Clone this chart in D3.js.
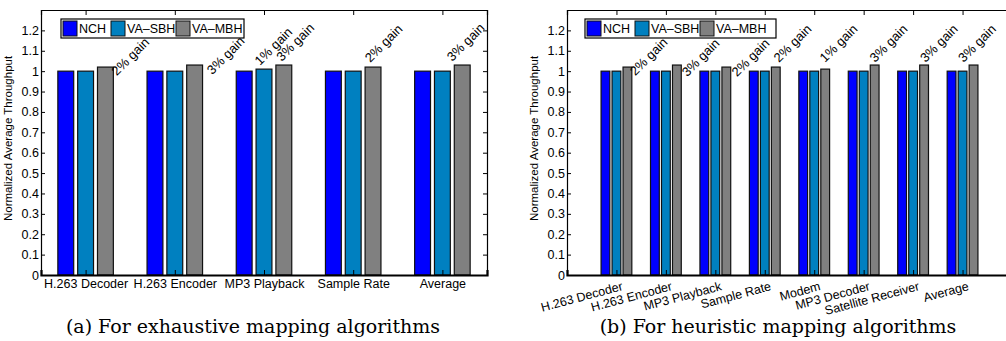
<!DOCTYPE html>
<html lang="en">
    <head>
        <meta charset="UTF-8" />
        <title>Normalized average throughput</title>
        <script src="https://cdn.jsdelivr.net/npm/d3@7"></script>
        <style>
            text {
                font-family: 'Liberation Sans', Arial, sans-serif;
            }
            .caption {
                font-family: 'DejaVu Serif', serif;
                font-size: 19px;
            }
        </style>
    </head>
    <body style="padding: 0; margin: 0; background-color: #fff;">
        <svg width="1006" height="341"></svg>
        <script>
            var seriesNames = ['NCH', 'VA\u2013SBH', 'VA\u2013MBH'];
            var seriesColors = ['#0000ff', '#0080c0', '#808080'];
            var yTicks = [0, 0.1, 0.2, 0.3, 0.4, 0.5, 0.6, 0.7, 0.8, 0.9, 1, 1.1, 1.2];

            // (a) exhaustive mapping
            var catsA = ['H.263 Decoder', 'H.263 Encoder', 'MP3 Playback', 'Sample Rate', 'Average'];
            var nchA = [1, 1, 1, 1, 1];
            var sbhA = [1, 1, 1.01, 1, 1];
            var mbhA = [1.02, 1.03, 1.03, 1.02, 1.03];
            var gainTextA = ['2% gain', '3% gain', '1% gain', '3% gain', '2% gain', '3% gain'];
            var gainXA = [1.35, 2.42, 2.955, 3.2, 4.19, 5.11];
            var gainYA = [0.975, 0.98, 1.025, 1.045, 1.04, 1.045];

            // (b) heuristic mapping
            var catsB = ['H.263 Decoder', 'H.263 Encoder', 'MP3 Playback', 'Sample Rate',
                'Modem', 'MP3 Decoder', 'Satellite Receiver', 'Average'];
            var nchB = [1, 1, 1, 1, 1, 1, 1, 1];
            var sbhB = [1, 1, 1, 1, 1, 1, 1, 1];
            var mbhB = [1.02, 1.03, 1.02, 1.02, 1.01, 1.03, 1.03, 1.03];
            var gainTextB = ['2% gain', '3% gain', '2% gain', '2% gain', '1% gain', '3% gain', '3% gain', '3% gain'];
            var gainXB = [1.38, 2.43, 3.44, 4.29, 5.22, 6.23, 7.25, 8.02];
            var gainYB = [0.975, 0.97, 0.97, 1.04, 1.04, 1.04, 1.04, 1.04];

            var svg = d3.select('svg');

            function panel(opt) {
                var g = svg.append('g');
                var x = d3.scaleLinear().domain(opt.xDomain).range([opt.left, opt.right]);
                var y = d3.scaleLinear().domain([0, 1.3]).range([275, 10]);
                var series = [opt.nch, opt.sbh, opt.mbh];
                var step = 2 / 9; // matlab grouped bar spacing
                var bw = step * 0.8;

                // bars
                series.forEach(function (vals, s) {
                    g.append('g')
                        .selectAll('rect')
                        .data(vals)
                        .join('rect')
                        .attr('x', (d, i) => x(i + 1 + (s - 1) * step - bw / 2))
                        .attr('width', x(bw) - x(0))
                        .attr('y', d => y(d))
                        .attr('height', d => y(0) - y(d))
                        .attr('fill', seriesColors[s])
                        .attr('stroke', '#111')
                        .attr('stroke-width', 1.2);
                });

                var catIdx = opt.cats.map((c, i) => i + 1);

                // axes
                g.append('g')
                    .attr('transform', 'translate(' + opt.left + ',0)')
                    .call(d3.axisLeft(y).tickValues(yTicks).tickSize(-4).tickPadding(2)
                        .tickFormat(d3.format('~g')));
                g.append('g')
                    .attr('transform', 'translate(' + opt.right + ',0)')
                    .call(d3.axisRight(y).tickValues(yTicks).tickSize(-4).tickFormat(''));
                g.append('g')
                    .attr('transform', 'translate(0,' + y(1.3) + ')')
                    .call(d3.axisTop(x).tickValues(catIdx).tickSize(-5).tickFormat(''));
                var xb = g.append('g')
                    .attr('transform', 'translate(0,' + y(0) + ')')
                    .call(d3.axisBottom(x).tickValues(catIdx).tickSize(-5).tickPadding(4)
                        .tickFormat((d, i) => opt.cats[i]));
                g.selectAll('.domain').attr('stroke', '#000').attr('stroke-width', 1.2);
                xb.select('.domain').attr('stroke-width', 2.2);
                g.selectAll('.tick line').attr('stroke', '#000');
                g.selectAll('.tick text').attr('fill', '#000').style('font-size', '12.5px');

                if (opt.tilt) {
                    xb.selectAll('.tick text')
                        .attr('text-anchor', 'end')
                        .attr('dy', '0.75em')
                        .attr('transform', 'translate(3,2) rotate(-15)');
                }

                // y label
                g.append('text')
                    .attr('transform', 'translate(' + opt.ylabelX + ',' + y(0.67) + ') rotate(-90)')
                    .attr('text-anchor', 'middle')
                    .style('font-size', '11.5px')
                    .text('Normalized Average Throughput');

                // gain annotations
                g.append('g')
                    .selectAll('text')
                    .data(opt.gainText)
                    .join('text')
                    .attr('transform', (d, i) =>
                        'translate(' + x(opt.gainX[i]) + ',' + y(opt.gainY[i]) + ') rotate(-45)')
                    .style('font-size', '13px')
                    .text(d => d);

                // legend
                var lg = g.append('g').attr('transform', 'translate(' + opt.legendX + ',19)');
                lg.append('rect')
                    .attr('width', opt.legendW).attr('height', 19)
                    .attr('fill', '#fff').attr('stroke', '#000').attr('stroke-width', 1.2);
                var offs = [2, 50, 115];
                seriesNames.forEach(function (n, s) {
                    lg.append('rect')
                        .attr('x', offs[s]).attr('y', 2)
                        .attr('width', 14).attr('height', 15)
                        .attr('fill', seriesColors[s]).attr('stroke', '#111');
                    lg.append('text')
                        .attr('x', offs[s] + 16).attr('y', 14)
                        .style('font-size', '12.5px')
                        .text(n);
                });

                // caption
                g.append('text')
                    .attr('class', 'caption')
                    .attr('x', opt.capX).attr('y', 333)
                    .attr('text-anchor', 'middle')
                    .text(opt.caption);
            }

            panel({
                cats: catsA, nch: nchA, sbh: sbhA, mbh: mbhA,
                gainText: gainTextA, gainX: gainXA, gainY: gainYA,
                xDomain: [0.5, 5.5], left: 41, right: 487,
                ylabelX: 12, legendX: 61, legendW: 183, capX: 253,
                caption: '(a) For exhaustive mapping algorithms'
            });

            panel({
                cats: catsB, nch: nchB, sbh: sbhB, mbh: mbhB,
                gainText: gainTextB, gainX: gainXB, gainY: gainYB,
                xDomain: [0, 9], left: 567, right: 1012, tilt: true,
                ylabelX: 538, legendX: 585, legendW: 191, capX: 778,
                caption: '(b) For heuristic mapping algorithms'
            });
        </script>
    </body>
</html>
